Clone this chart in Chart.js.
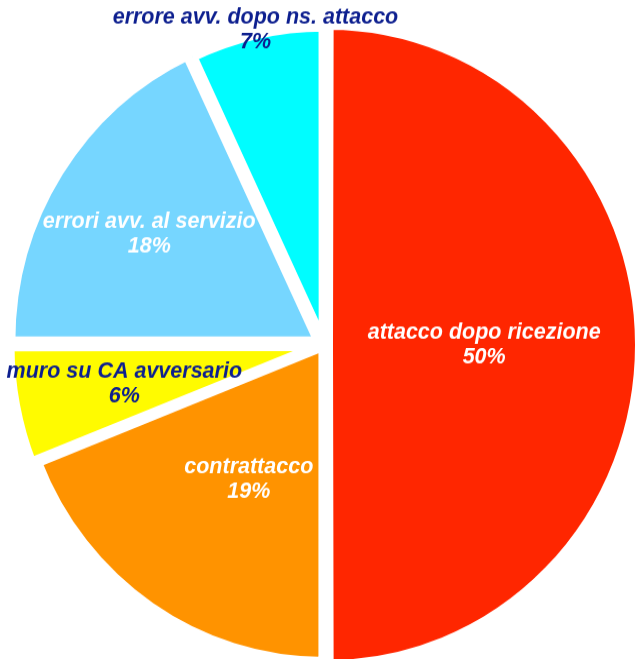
<!DOCTYPE html>
<html>
<head>
<meta charset="utf-8">
<script src="https://cdn.jsdelivr.net/npm/chart.js@4"></script>
<style>
  html, body { margin: 0; padding: 0; background: #fff; overflow: hidden; }
  #pie { display: block; }
</style>
</head>
<body>
<canvas id="pie" width="639" height="642" style="width:639px;height:659px"></canvas>
<script>
(function () {
    'use strict';

    const categories = ['attacco dopo ricezione', 'contrattacco', 'muro su CA avversario', 'errori avv. al servizio', 'errore avv. dopo ns. attacco'];
    const shares = [50, 19, 6, 18, 7];
    const sliceColors = ['#ff2600', '#ff9300', '#fffb00', '#76d6ff', '#00fdff'];
    const labelColors = ['#ffffff', '#ffffff', '#0d1f8f', '#ffffff', '#0d1f8f'];
    const sliceOffsets = [16, 4, 16, 24, 6];
    const labelRadius = [0.52, 0.49, 0.66, 0.667, 1.02];
    const labelTurn = [0, -0.075, 0, -0.012, 0];   // radians, nudges label off the bisector

    // draws name + percentage inside (or just outside) each slice
    const sliceLabels = {
        id: 'sliceLabels',
        afterDatasetsDraw(chart) {
            const ctx = chart.ctx;
            const arcs = chart.getDatasetMeta(0).data;
            ctx.save();
            ctx.font = 'italic bold 21.5px "Liberation Sans", Arial, sans-serif';
            ctx.textAlign = 'center';
            ctx.textBaseline = 'middle';
            arcs.forEach(function (arc, i) {
                const p = arc.getProps(['x', 'y', 'startAngle', 'endAngle', 'outerRadius'], true);
                const mid = (p.startAngle + p.endAngle) / 2 + labelTurn[i];
                const r = p.outerRadius * labelRadius[i];
                const x = p.x + Math.cos(mid) * r;
                const y = p.y + Math.sin(mid) * r;
                ctx.fillStyle = labelColors[i];
                ctx.fillText(categories[i], x, y - 12);
                ctx.fillText(shares[i] + '%', x, y + 12);
            });
            ctx.restore();
        }
    };

    new Chart(document.getElementById('pie'), {
        type: 'pie',
        data: {
            labels: categories,
            datasets: [{
                data: shares,
                backgroundColor: sliceColors,
                borderColor: '#ffffff',
                borderWidth: 10,
                offset: sliceOffsets
            }]
        },
        options: {
            responsive: false,
            animation: false,
            radius: 308,
            layout: { padding: { left: 9, top: 30 } },
            plugins: {
                legend: { display: false },
                tooltip: { enabled: false }
            }
        },
        plugins: [sliceLabels]
    });
})();
</script>
</body>
</html>
